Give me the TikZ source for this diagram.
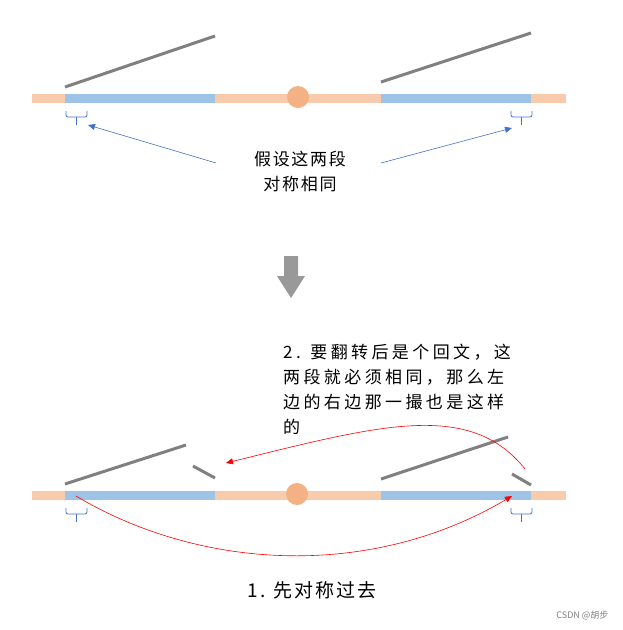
\documentclass[tikz,border=0pt]{standalone}
\usepackage{fontspec}
\setmainfont{Liberation Sans}
\newfontfamily\cjk{Noto Sans CJK SC}
\newfontfamily\cjkw[LetterSpace=20]{Noto Sans CJK SC}
\newfontfamily\cjkm[LetterSpace=10]{Noto Sans CJK SC}
\usetikzlibrary{arrows.meta}
\definecolor{peach}{HTML}{F8CBAD}
\definecolor{sky}{HTML}{9DC3E6}
\definecolor{dot}{HTML}{F4B183}
\definecolor{bl}{HTML}{4472C4}
\tikzset{x=1pt,y=-1pt,
 bar/.style={line width=9pt,draw=peach},
 seg/.style={line width=9pt,draw=sky},
 stroke/.style={line width=3pt,draw=gray},
 brace/.style={draw=bl,line width=0.8pt,rounded corners=2pt},
 barrow/.style={draw=bl,line width=0.6pt,-{Triangle[length=7pt,width=6pt]}},
 rarrow/.style={draw=red,line width=0.6pt,-{Triangle[length=7pt,width=6pt]}},
 lbl/.style={font=\cjkm\fontsize{17}{25}\selectfont,align=center}}
\begin{document}
\begin{tikzpicture}
\useasboundingbox (0,0) rectangle (623,630);
\fill[white] (0,0) rectangle (623,630);
% top
\draw[bar] (32,98) -- (566,98);
\draw[seg] (65,98) -- (215,98);
\draw[seg] (381,98) -- (531,98);
\fill[dot] (298,97) circle (11);
\draw[stroke] (65,87) -- (215,36);
\draw[stroke] (381,82) -- (531,33);
\draw[brace] (66,111) -- (66,117) -- (87,117) -- (87,111);
\draw[brace] (76,117) -- (76,125);
\draw[brace] (511,111) -- (511,117) -- (532,117) -- (532,111);
\draw[brace] (521,117) -- (521,125);
\node[lbl] (t1) at (300,172) {假设这两段\\对称相同};
\coordinate (a1) at (216,163);
\coordinate (a2) at (381,163);
\coordinate (e1) at (88,125);
\coordinate (e2) at (512,128);
\draw[barrow] (a1) -- (e1);
\draw[barrow] (a2) -- (e2);
% down arrow
\fill[gray!80] (284,256) -- (298,256) -- (298,276) -- (305,276) -- (291,298) -- (277,276) -- (284,276) -- cycle;
% bottom
\draw[bar] (32,495) -- (566,495);
\draw[seg] (65,495) -- (215,495);
\draw[seg] (381,495) -- (531,495);
\fill[dot] (297,494) circle (11);
\draw[stroke] (65,484) -- (186,445);
\draw[stroke] (193,466) -- (215,478);
\draw[stroke] (381,479) -- (508,437);
\draw[stroke] (512,474) -- (531,485);
\draw[brace] (66,508) -- (66,514) -- (87,514) -- (87,508);
\draw[brace] (76,514) -- (76,522);
\draw[brace] (511,508) -- (511,514) -- (532,514) -- (532,508);
\draw[brace] (521,514) -- (521,522);
\coordinate (r1s) at (76,496);
\coordinate (r1e) at (512,496);
\draw[rarrow] (r1s) .. controls (200,570) and (370,580) .. (r1e);
\coordinate (r2s) at (525,469);
\coordinate (r2e) at (226,463);
\draw[rarrow] (r2s) .. controls (470,400) and (380,425) .. (r2e);
\node[align=left,anchor=north west,inner sep=0pt,font=\cjkw\fontsize{17}{25}\selectfont] (t2) at (283,344) {2. 要翻转后是个回文，这\\两段就必须相同，那么左\\边的右边那一撮也是这样\\的};
\node[font=\cjkm\fontsize{19}{22}\selectfont] (cap) at (312,590) {1. 先对称过去};
\node[font=\cjk\fontsize{9}{11}\selectfont,text=gray,anchor=east] (wm) at (612,615) {CSDN @胡步};
\end{tikzpicture}
\end{document}
